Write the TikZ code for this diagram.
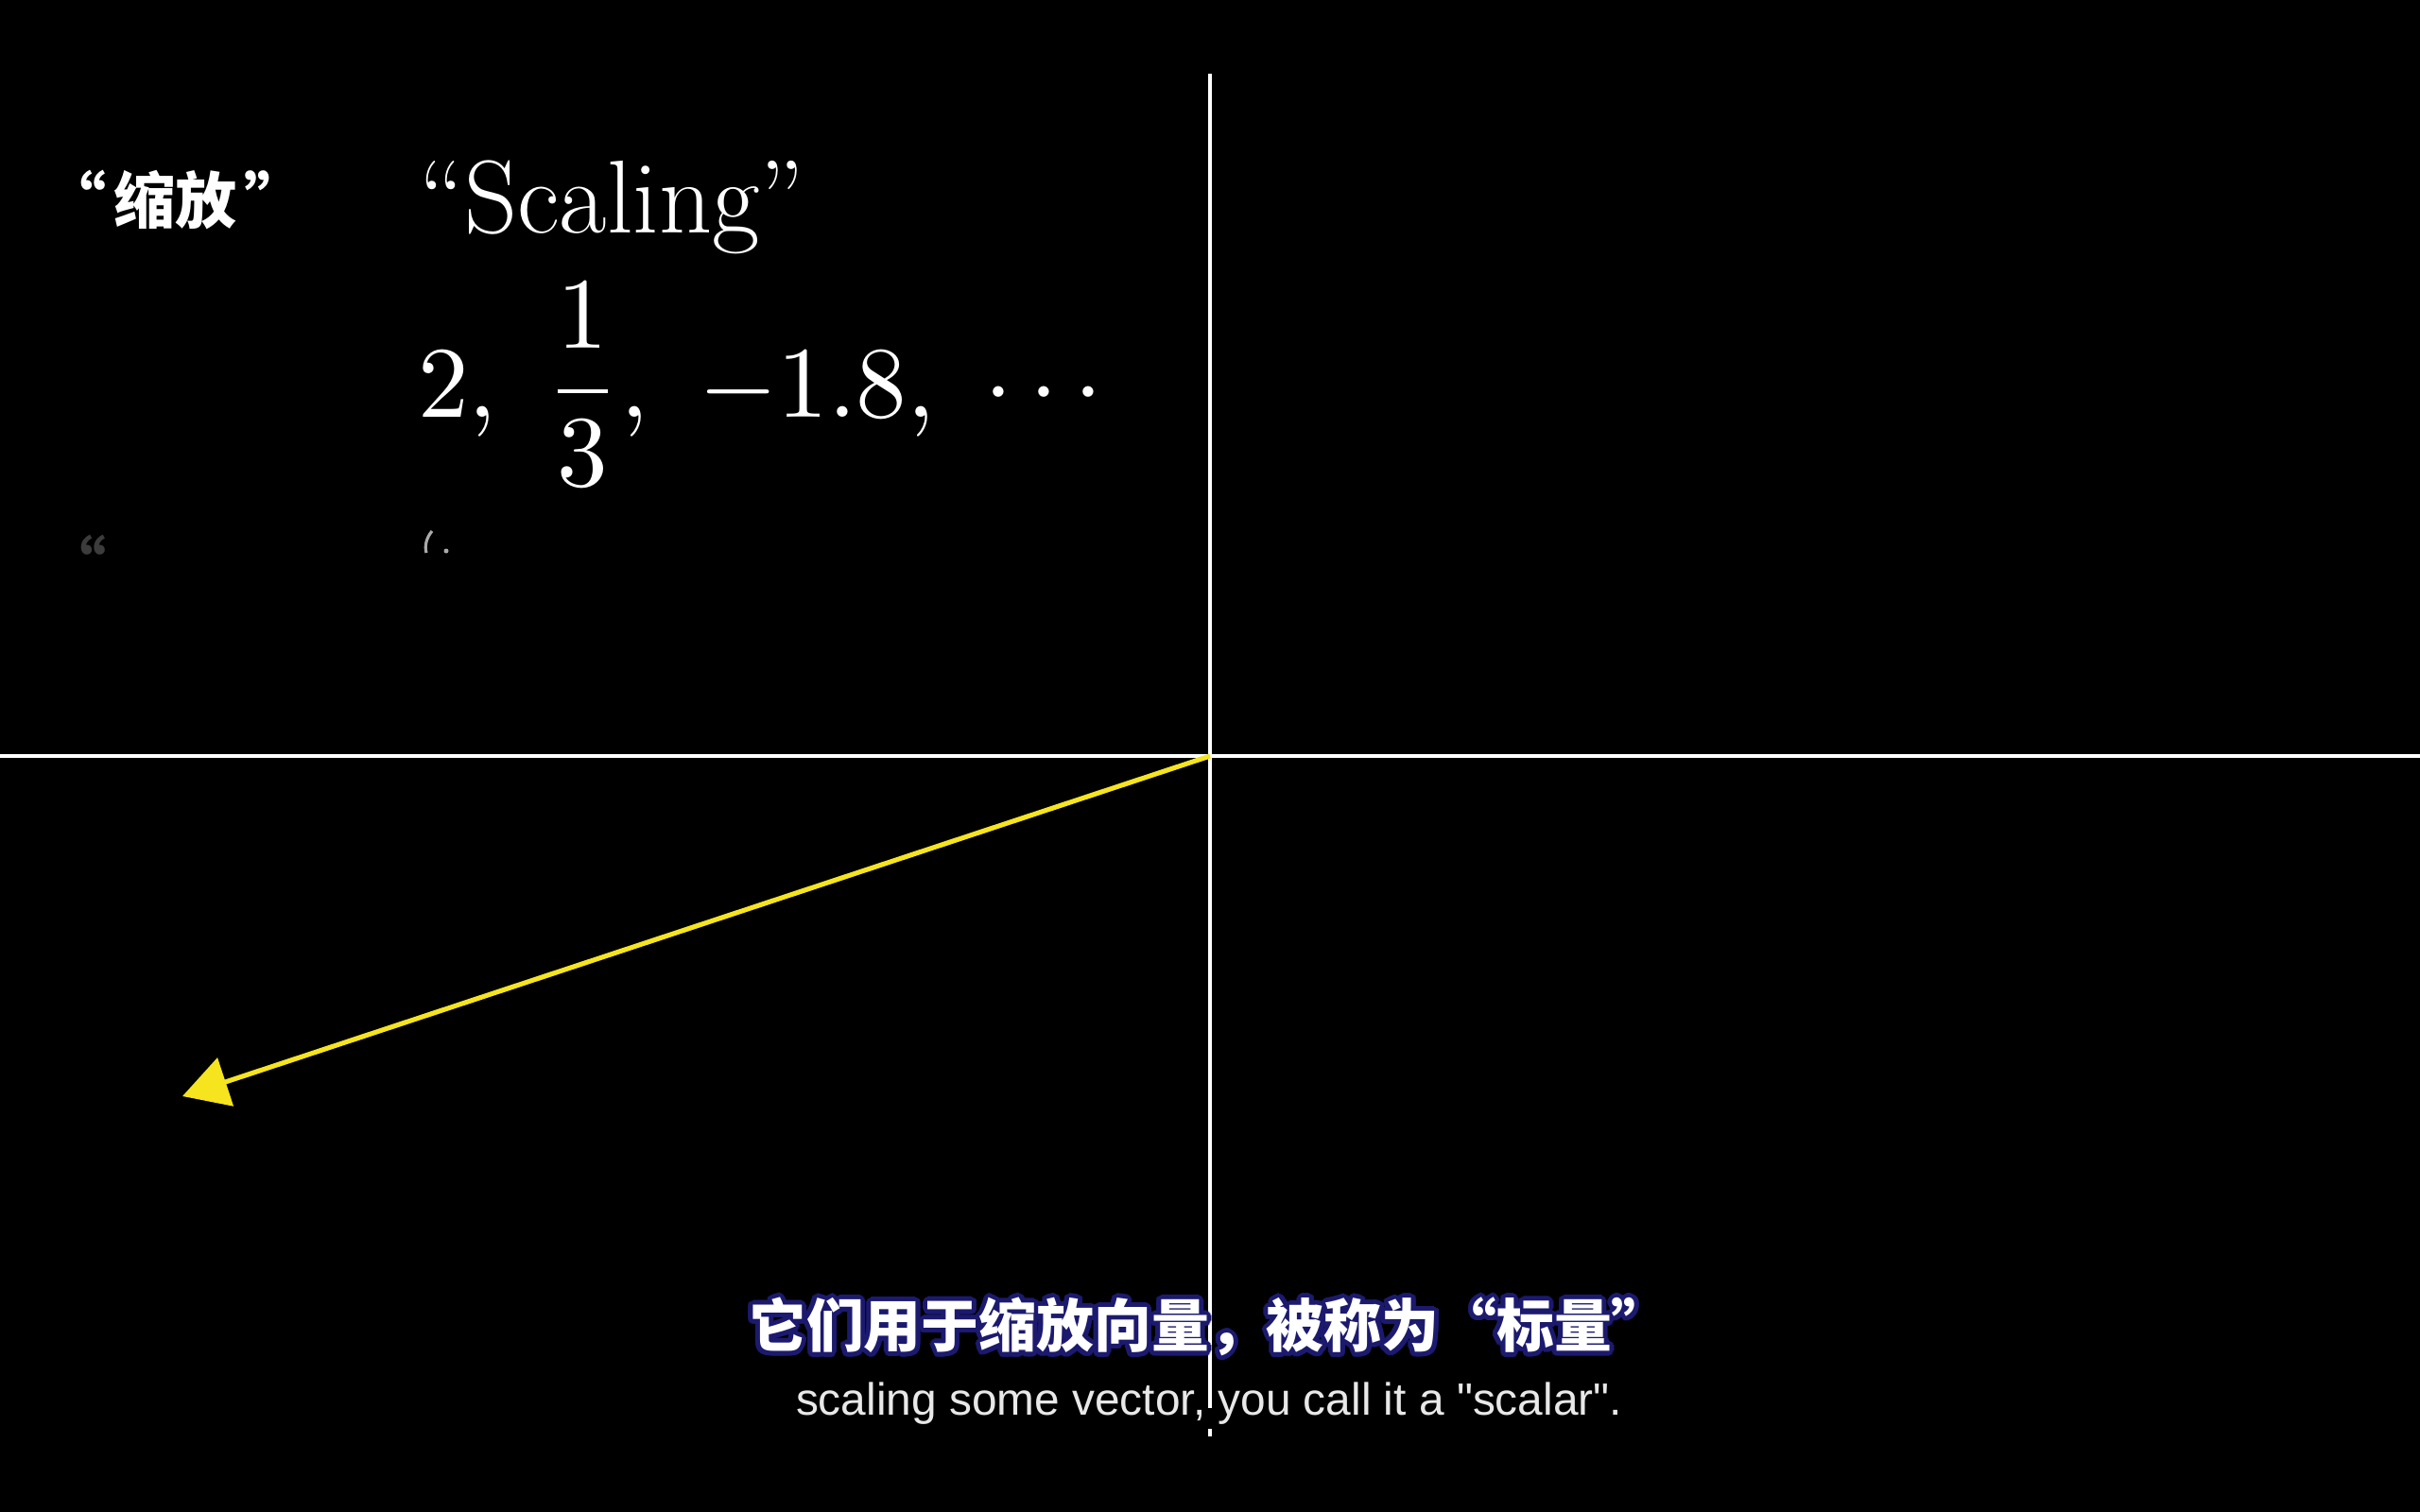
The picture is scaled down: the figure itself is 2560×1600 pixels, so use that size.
\documentclass[tikz,border=0pt]{standalone}
\usepackage{amsmath}
\usepackage{fontspec}
\newfontfamily\cjk{Noto Sans CJK SC}
\newfontfamily\subfont{Liberation Sans}
\usetikzlibrary{arrows.meta}
\definecolor{vecyellow}{RGB}{245,228,30}
\definecolor{subnavy}{RGB}{28,26,110}
\definecolor{subgray}{RGB}{232,232,232}
\definecolor{fadegray}{RGB}{60,60,60}
\definecolor{fadelight}{RGB}{170,170,170}
\tikzset{
  axis/.style={white, line width=1.15pt},
  vecarrow/.style={vecyellow, line width=1.45pt, -{Triangle[length=0.48cm, width=0.53cm]}},
  bigtext/.style={text=white, inner sep=0pt, anchor=base west, font=\fontsize{31.2pt}{36pt}\selectfont},
  mathtext/.style={text=white, inner sep=0pt, anchor=base west, scale=3.05},
  cntitle/.style={text=white, inner sep=0pt, anchor=base west, font=\cjk\bfseries\fontsize{18.5pt}{22pt}\selectfont},
  subcn/.style={inner sep=0pt, anchor=center, font=\cjk\bfseries\fontsize{17.3pt}{20pt}\selectfont},
  suben/.style={text=subgray, inner sep=0pt, anchor=base, font=\subfont\fontsize{13.6pt}{16pt}\selectfont},
}
\begin{document}
\begin{tikzpicture}[x=0.01cm,y=-0.01cm]
\fill[black] (0,0) rectangle (2560,1600);
\useasboundingbox (0,0) rectangle (2560,1600);
% axes
\coordinate (O) at (1280,800);
\coordinate (xl) at (0,800);
\coordinate (xr) at (2560,800);
\coordinate (yt) at (1280,78);
\coordinate (yb) at (1280,1490);
\coordinate (yb2) at (1280,1512);
\coordinate (yb3) at (1280,1520);
\draw[axis] (xl) -- (xr);
\draw[axis] (yt) -- (yb);
\draw[axis] (yb2) -- (yb3);
% vector
\coordinate (T) at (193,1160);
\draw[vecarrow] (O) -- (T);
% texts
\node[cntitle] (cnscale) at (47,236) {“\hspace{0.12em}缩放\hspace{0.12em}”};
\node[bigtext] (enscale) at (443,246) {“Scaling”};
\node[mathtext] (nums) at (440,441) {$2,\hspace{0.31em}\dfrac{1}{3},\hspace{0.33em}-1.8,\hspace{0.32em}\cdots$};
% fading next row
\node[cntitle, text=fadegray] (fadeq) at (47,622) {“};
\draw[fadelight, line width=0.9pt] (457,562) .. controls (451,569) and (449,578) .. (451,585);
\fill[fadelight] (472,583) circle (2.5);
% subtitles
\coordinate (S1) at (1279,1404);
\foreach \a in {0,22.5,...,337.5} {
  \node[subcn, text=subnavy, shift={(\a:5)}] at (S1) {它们用于缩放向量，被称为“标量”};
  \node[subcn, text=subnavy, shift={(\a:2.5)}] at (S1) {它们用于缩放向量，被称为“标量”};
}
\node[subcn, text=white] (subcnmain) at (S1) {它们用于缩放向量，被称为“标量”};
\node[suben] (subenmain) at (1279,1497) {scaling some vector, you call it a "scalar".};
\end{tikzpicture}
\end{document}
